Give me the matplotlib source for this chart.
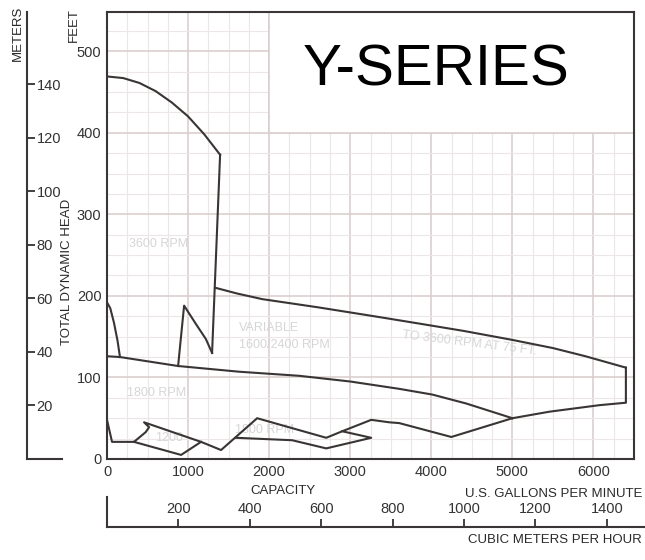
import matplotlib
matplotlib.use("Agg")
import matplotlib.pyplot as plt
from matplotlib.patches import Rectangle
from matplotlib.ticker import MultipleLocator

plt.rcParams['font.family'] = ['Liberation Sans', 'DejaVu Sans']

# Pump curve outlines (x = US gpm, y = feet)
top_3600_gpm = [0, 200, 400, 600, 800, 1000, 1200, 1395]
top_3600_ft = [469, 467, 461, 451, 437, 420, 398, 373]

edge_3600_gpm = [1395, 1296]
edge_3600_ft = [373, 130]

notch_gpm = [877, 951, 1100, 1220, 1296]
notch_ft = [114, 188, 165, 147, 130]

left_gpm = [0, 40, 86, 130, 160]
left_ft = [192, 185, 167, 145, 125]

line_1800_gpm = [0, 160, 877, 1630, 2370, 3000, 3605, 4012, 4432, 5000]
line_1800_ft = [126, 125, 114, 107, 102, 95, 86, 79, 68, 50]

var_top_gpm = [1333, 1600, 1914, 2600, 3358, 3852, 4400, 5000, 5500, 5900, 6400]
var_top_ft = [210, 203, 196, 186, 174, 166, 157, 146, 136, 126, 112]

var_end_gpm = [6400, 6400, 6074, 5457, 5000]
var_end_ft = [112, 69, 66, 58, 50]

low_gpm = [5000, 4247, 3605, 3481, 3259, 2901, 2704, 1852, 1407, 1160,
           457, 519, 478, 333, 62, 0]
low_ft = [50, 27, 44, 45, 48, 34, 26, 50, 11, 21, 45, 39, 33, 21, 21, 48]

low_1200_gpm = [333, 914, 1160]
low_1200_ft = [21, 5, 21]

inner_gpm = [1593, 2284, 2704, 3259, 2901]
inner_ft = [26, 23, 13, 26, 34]

gpm_ticks = [0, 1000, 2000, 3000, 4000, 5000, 6000]
ft_ticks = [0, 100, 200, 300, 400, 500]
meter_ticks = [20, 40, 60, 80, 100, 120, 140]
m3h_ticks = [200, 400, 600, 800, 1000, 1200, 1400]

region_labels = ["3600 RPM", "VARIABLE", "1600/2400 RPM", "TO 3600 RPM AT 75 FT.",
                 "1800 RPM", "1200", "1800 RPM"]
label_gpm = [640, 1630, 1630, 4470, 617, 765, 1938]
label_ft = [263, 161, 140, 142, 81, 26, 36]

W, H = 645, 560
GPM_MAX, FT_MAX = 6500, 548
GPM_PER_M3H = 4.40287
FT_PER_M = 1 / 0.3048

fig = plt.figure(figsize=(W / 100, H / 100), dpi=100)

ax = fig.add_axes([107 / W, 1 - 459 / H, 527 / W, 447 / H])
ax.set_xlim(0, GPM_MAX)
ax.set_ylim(0, FT_MAX)
ax.xaxis.set_minor_locator(MultipleLocator(250))
ax.yaxis.set_minor_locator(MultipleLocator(25))
ax.set_xticks(gpm_ticks)
ax.set_yticks(ft_ticks)
ax.grid(True, which='major', color='#d8cccc', lw=1.1)
ax.grid(True, which='minor', color='#ece6e6', lw=0.8)
ax.set_axisbelow(True)
ax.tick_params(which='both', length=0, labelsize=10.5, colors='#333333')
ax.tick_params(axis='x', pad=4)
ax.tick_params(axis='y', pad=4)
for s in ax.spines.values():
    s.set_color('#3a3636')
    s.set_linewidth(1.5)

# white title box over the grid
ax.add_patch(Rectangle((2000, 400), GPM_MAX - 2000, FT_MAX - 400,
                       facecolor='white', edgecolor='#d8cccc', lw=1.1, zorder=1))
ax.text(4062, 476, "Y-SERIES", fontsize=42, ha='center', va='center', color='black', zorder=3)

kw = dict(color='#3a3535', lw=1.5, zorder=3)
for xs, ys in [(top_3600_gpm, top_3600_ft), (edge_3600_gpm, edge_3600_ft),
               (notch_gpm, notch_ft), (left_gpm, left_ft),
               (line_1800_gpm, line_1800_ft), (var_top_gpm, var_top_ft),
               (var_end_gpm, var_end_ft), (low_gpm, low_ft),
               (low_1200_gpm, low_1200_ft), (inner_gpm, inner_ft)]:
    ax.plot(xs, ys, **kw)

rots = [0, 0, 0, -7, 0, 0, 0]
has = ['center', 'left', 'left', 'center', 'center', 'center', 'center']
for t, x, y, r, ha in zip(region_labels, label_gpm, label_ft, rots, has):
    ax.text(x, y, t, fontsize=9, color='#d6d6d6', ha=ha, va='center', rotation=r, zorder=2)

# meters scale on the far left
axm = fig.add_axes([27 / W, 1 - 459 / H, 35 / W, 447 / H])
axm.set_facecolor('none')
axm.set_ylim(0, FT_MAX / FT_PER_M)
axm.set_xticks([])
axm.yaxis.tick_right()
axm.spines['right'].set_position(('axes', 0))
axm.spines['right'].set_visible(False)
axm.spines['top'].set_visible(False)
for k in ['left', 'bottom']:
    axm.spines[k].set_color('#3a3636')
    axm.spines[k].set_linewidth(1.5)
axm.set_yticks(meter_ticks)
axm.tick_params(axis='y', direction='out', length=6, width=1.3, pad=1,
                labelsize=10.5, colors='#333333')

# cubic meters per hour scale at the bottom
cub_right = 655
axc = fig.add_axes([107 / W, 1 - 527 / H, (cub_right - 107) / W, 30 / H])
axc.set_facecolor('none')
axc.set_xlim(0, GPM_MAX * (cub_right - 107) / 527 / GPM_PER_M3H)
axc.set_yticks([])
axc.xaxis.tick_top()
axc.spines['top'].set_position(('axes', 0))
axc.spines['top'].set_visible(False)
axc.spines['right'].set_visible(False)
for k in ['left', 'bottom']:
    axc.spines[k].set_color('#3a3636')
    axc.spines[k].set_linewidth(1.5)
axc.set_xticks(m3h_ticks)
axc.tick_params(axis='x', direction='out', length=6, width=1.3, pad=2,
                labelsize=10.5, colors='#333333')

tc = '#2a2a2a'
fig.text(18 / W, 1 - 6 / H, "METERS", rotation=90, ha='center', va='top', fontsize=9.5, color=tc)
fig.text(74 / W, 1 - 8 / H, "FEET", rotation=90, ha='center', va='top', fontsize=9.5, color=tc)
fig.text(67 / W, 1 - 272 / H, "TOTAL DYNAMIC HEAD", rotation=90, ha='center', va='center',
         fontsize=9.5, color=tc)
fig.text(283 / W, 1 - 491 / H, "CAPACITY", ha='center', va='center', fontsize=9.5, color=tc)
fig.text(642 / W, 1 - 494 / H, "U.S. GALLONS PER MINUTE", ha='right', va='center', fontsize=9.5, color=tc)
fig.text(642 / W, 1 - 540 / H, "CUBIC METERS PER HOUR", ha='right', va='center', fontsize=9.5, color=tc)

fig.savefig("out.png", dpi=100)
